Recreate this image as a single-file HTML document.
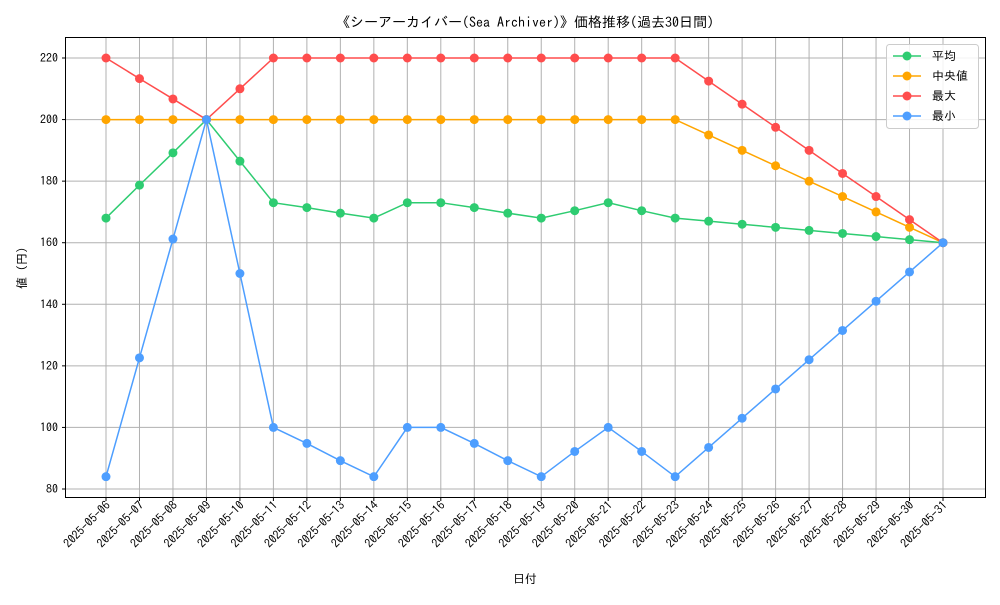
<!DOCTYPE html>
<html><head><meta charset="utf-8"><style>
body{margin:0;background:#fff}
svg text{font-family:"IPAGothic","Noto Sans CJK JP",monospace;fill:#000}
</style></head><body>
<svg id="chart" width="1000" height="600" xmlns="http://www.w3.org/2000/svg">
<rect x="0" y="0" width="1000" height="600" fill="#fff"/>
<text x="525" y="27" font-size="14" text-anchor="middle">《シーアーカイバー(Sea Archiver)》価格推移(過去30日間)</text>
<g id="grid"></g><g id="axes"></g><g id="series"></g>
<rect x="65.5" y="37.5" width="920" height="460" fill="none" stroke="#000" stroke-width="1"/>
<text x="525" y="583" font-size="12" text-anchor="middle">日付</text>
<text transform="translate(26,268) rotate(-90)" font-size="12" text-anchor="middle">値 (円)</text>
<g id="legend">
<rect x="886.5" y="44.5" width="92" height="84" fill="#fff" fill-opacity="0.85" stroke="#ccc" rx="3"/>
</g>
</svg>
<script>
const dates=["2025-05-06","2025-05-07","2025-05-08","2025-05-09","2025-05-10","2025-05-11","2025-05-12","2025-05-13","2025-05-14","2025-05-15","2025-05-16","2025-05-17","2025-05-18","2025-05-19","2025-05-20","2025-05-21","2025-05-22","2025-05-23","2025-05-24","2025-05-25","2025-05-26","2025-05-27","2025-05-28","2025-05-29","2025-05-30","2025-05-31"];
const avgValues=[168,178.7,189.2,200,186.5,173,171.4,169.6,168,173,173,171.4,169.6,168,170.4,173,170.4,168,167,166,165,164,163,162,161,160];
const medianValues=[200,200,200,200,200,200,200,200,200,200,200,200,200,200,200,200,200,200,195,190,185,180,175,170,165,160];
const maxValues=[220,213.3,206.7,200,210,220,220,220,220,220,220,220,220,220,220,220,220,220,212.5,205,197.5,190,182.5,175,167.5,160];
const minValues=[84,122.6,161.2,200,150,100,94.8,89.2,84,100,100,94.8,89.2,84,92.2,100,92.2,84,93.5,103,112.5,122,131.5,141,150.5,160];
const yTicks=[80,100,120,140,160,180,200,220];
const seriesNames=["平均","中央値","最大","最小"];
const NS="http://www.w3.org/2000/svg";
const xScale=i=>106+i*(943-106)/(dates.length-1);
const yScale=v=>489-(v-80)*(489-58)/140;
function mk(tag,attrs,parent){const e=document.createElementNS(NS,tag);for(const k in attrs)e.setAttribute(k,attrs[k]);parent.appendChild(e);return e;}
const grid=document.getElementById('grid'),axes=document.getElementById('axes'),ser=document.getElementById('series'),leg=document.getElementById('legend');
dates.forEach((d,i)=>{const x=xScale(i);
 const g=mk('line',{x1:x,x2:x,y1:37.5,y2:497.5,stroke:'#b0b0b0','stroke-width':1},grid);
 
 
 mk('line',{x1:x,x2:x,y1:497.5,y2:501,stroke:'#000'},axes);
 const t=mk('text',{'font-size':12,'text-anchor':'end',transform:`translate(${x+5},${506}) rotate(-45)`},axes);
 t.textContent=d;
 
 
});
yTicks.forEach(v=>{const y=yScale(v);
 const g=mk('line',{x1:65.5,x2:985.5,y1:y,y2:y,stroke:'#b0b0b0','stroke-width':1},grid);
 
 
 mk('line',{x1:62,x2:65.5,y1:y,y2:y,stroke:'#000'},axes);
 const t=mk('text',{x:58,y:y+4,'font-size':12,'text-anchor':'end'},axes);
 t.textContent=v;
 
 
});
const allSeries=[avgValues,medianValues,maxValues,minValues];
const colors=["#2ecc71","#ffa500","#ff4d4d","#4d9eff"];
const keys=["average","median","max","min"];
allSeries.forEach((vals,s)=>{
 const g=mk('g',{},ser);
 
 
 const p=mk('polyline',{points:vals.map((v,i)=>xScale(i)+','+yScale(v)).join(' '),fill:'none',stroke:colors[s],'stroke-width':1.5},g);
 
 
 vals.forEach((v,i)=>{const c=mk('circle',{cx:xScale(i),cy:yScale(v),r:4.5,fill:colors[s]},g);
  
  });
 const ly=56+s*20;
 const lg=mk('g',{},leg);
 
 
 mk('line',{x1:893,x2:921,y1:ly,y2:ly,stroke:colors[s],'stroke-width':1.5},lg);
 mk('circle',{cx:907,cy:ly,r:4.5,fill:colors[s]},lg);
 const t=mk('text',{x:932,y:ly+4,'font-size':12},lg);
 t.textContent=seriesNames[s];
});
</script>
</body></html>
